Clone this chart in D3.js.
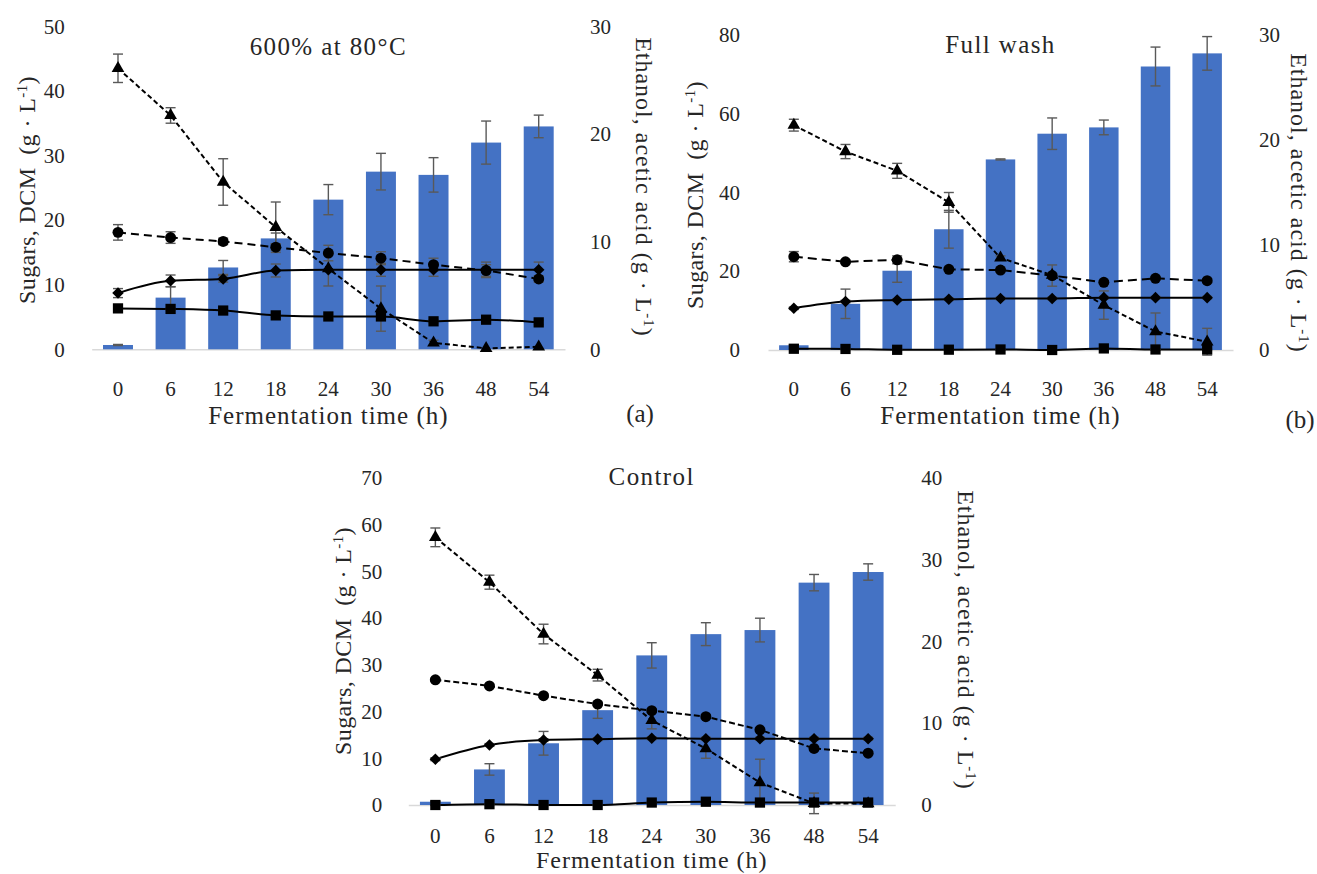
<!DOCTYPE html>
<html>
<head>
<meta charset="utf-8">
<script src="https://d3js.org/d3.v7.min.js"></script>
<style>
  html, body { margin: 0; padding: 0; background: #fff; }
  svg { display: block; }
  text { font-family: "Liberation Serif", "Times New Roman", serif; fill: #262626; }
</style>
</head>
<body>
<svg id="chart" width="1317" height="874"></svg>
<script>
// Sampling times (h)
const times = ["0", "6", "12", "18", "24", "30", "36", "48", "54"];

// (a) 600% at 80°C
const ethanolA    = [0.4, 4.8, 7.6, 10.3, 13.9, 16.5, 16.2, 19.2, 20.7];
const ethanolErrA = [0.05, 1.0, 0.65, 0.5, 1.4, 1.7, 1.6, 2.0, 1.05];
const glucoseA    = [43.5, 36.2, 25.9, 18.9, 12.5, 6.3, 1.0, 0.15, 0.4];
const glucoseErrA = [2.2, 1.2, 3.6, 3.9, 0, 3.5, 0.4, 0, 0];
const xyloseA     = [18.1, 17.3, 16.7, 15.8, 14.9, 14.1, 13.1, 12.2, 10.9];
const xyloseErrA  = [1.2, 0.9, 0.5, 0.5, 1.2, 1.0, 1.0, 0.9, 0.5];
const dcmA        = [8.7, 10.6, 10.9, 12.2, 12.3, 12.3, 12.3, 12.3, 12.3];
const dcmErrA     = [0.7, 0.9, 0.5, 1.0, 2.5, 1.0, 1.0, 1.2, 1.2];
const aceticA     = [3.8, 3.75, 3.6, 3.15, 3.05, 3.05, 2.6, 2.75, 2.5];
const aceticErrA  = [0.1, 0.1, 0.1, 0.15, 0.1, 0.2, 0.15, 0.15, 0.2];

// (b) Full wash
const ethanolB    = [0.45, 4.4, 7.55, 11.5, 18.15, 20.6, 21.2, 27.0, 28.25];
const ethanolErrB = [0.05, 1.4, 1.1, 1.8, 0.05, 1.5, 0.7, 1.85, 1.6];
const glucoseB    = [57.1, 50.4, 45.5, 37.5, 23.4, 19.0, 11.4, 4.7, 2.1];
const glucoseErrB = [1.5, 1.8, 1.9, 2.5, 0.5, 0.5, 3.6, 4.7, 3.4];
const xyloseB     = [23.7, 22.4, 22.9, 20.5, 20.3, 18.9, 17.2, 18.2, 17.6];
const xyloseErrB  = [1.3, 0.4, 1.0, 0.5, 0.5, 2.7, 0.5, 0.5, 0.5];
const dcmB        = [10.6, 12.3, 12.7, 12.9, 13.1, 13.1, 13.3, 13.3, 13.3];
const dcmErrB     = [0.3, 0.3, 0.3, 0.3, 0.3, 0.3, 0.3, 0.3, 0.3];
const aceticB     = [0.12, 0.1, 0.02, 0.03, 0.05, 0.0, 0.15, 0.05, 0.05];
const aceticErrB  = [0.05, 0.05, 0.05, 0.05, 0.05, 0.05, 0.05, 0.05, 0.05];

// (c) Control
const ethanolC    = [0.4, 4.35, 7.55, 11.6, 18.3, 20.9, 21.4, 27.2, 28.5];
const ethanolErrC = [0.05, 0.7, 1.45, 1.0, 1.55, 1.4, 1.45, 1.0, 1.0];
const glucoseC    = [57.3, 47.7, 36.6, 27.8, 18.1, 12.1, 4.8, 0.35, 0.3];
const glucoseErrC = [2.0, 1.5, 2.1, 1.25, 1.8, 2.1, 5.0, 2.2, 0];
const xyloseC     = [26.8, 25.5, 23.4, 21.6, 20.2, 18.9, 16.1, 12.1, 11.1];
const xyloseErrC  = [0.3, 0.3, 0.3, 0.3, 0.3, 0.3, 0.3, 0.3, 0.3];
const dcmC        = [9.8, 12.85, 13.9, 14.1, 14.3, 14.2, 14.2, 14.2, 14.2];
const dcmErrC     = [0.3, 0.3, 0.3, 0.3, 0.3, 0.3, 0.3, 0.3, 0.3];
const aceticC     = [0.0, 0.1, 0.0, 0.0, 0.3, 0.4, 0.3, 0.3, 0.3];
const aceticErrC  = [0.05, 0.05, 0.05, 0.05, 0.05, 0.05, 0.05, 0.05, 0.05];

// Axis ranges and titles
const panelTitles = ["600% at 80°C", "Full wash", "Control"];
const panelTags   = ["(a)", "(b)", ""];
const leftMax     = [50, 80, 70];
const leftStep    = [10, 20, 10];
const rightMax    = [30, 30, 40];
const rightStep   = [10, 10, 10];
const xTitle      = "Fermentation time (h)";
const leftTitle   = "Sugars, DCM  (g · L";
const rightTitle  = "Ethanol, acetic acid (g · L";

const series = [
  { ethanol: ethanolA, ethanolErr: ethanolErrA, glucose: glucoseA, glucoseErr: glucoseErrA,
    xylose: xyloseA, xyloseErr: xyloseErrA, dcm: dcmA, dcmErr: dcmErrA, acetic: aceticA, aceticErr: aceticErrA },
  { ethanol: ethanolB, ethanolErr: ethanolErrB, glucose: glucoseB, glucoseErr: glucoseErrB,
    xylose: xyloseB, xyloseErr: xyloseErrB, dcm: dcmB, dcmErr: dcmErrB, acetic: aceticB, aceticErr: aceticErrB },
  { ethanol: ethanolC, ethanolErr: ethanolErrC, glucose: glucoseC, glucoseErr: glucoseErrC,
    xylose: xyloseC, xyloseErr: xyloseErrC, dcm: dcmC, dcmErr: dcmErrC, acetic: aceticC, aceticErr: aceticErrC }
];

// Placement of each panel on the page
const layouts = [
  { x0: 91.7, x1: 565, base: 349.3, top: 26.3, padL: 27, padR: 25, padX: 31.8,
    titleX: 328.3, titleY: 55, xTitleY: 424, xTitleSize: 25, lTitleX: 35, lTitleY: 190,
    rTitleX: 636, rTitleY: 187, tagX: 640, tagY: 422, circDash: "8,5", triDash: "5,3" },
  { x0: 768, x1: 1233, base: 350, top: 35, padL: 28, padR: 26, padX: 31,
    titleX: 1000.5, titleY: 53, xTitleY: 424, xTitleSize: 25, lTitleX: 703, lTitleY: 195,
    rTitleX: 1291, rTitleY: 203, tagX: 1300, tagY: 428, circDash: "9,5", triDash: "5,3" },
  { x0: 408.3, x1: 895.2, base: 805, top: 478, padL: 26, padR: 26, padX: 23,
    titleX: 651.7, titleY: 485, xTitleY: 868, xTitleSize: 24, lTitleX: 351, lTitleY: 641,
    rTitleX: 958, rTitleY: 640, tagX: 0, tagY: 0, circDash: "6,3", triDash: "5,3" }
];

const BAR = "#4472C4", ERR = "#595959", INK = "#000";
const svg = d3.select("#chart");
const diamond = d3.symbolDiamond2 || d3.symbolDiamond;

function errorBar(g, cx, yA, yB) {
  if (Math.abs(yA - yB) < 0.5) return;
  g.append("line").attr("x1", cx).attr("x2", cx).attr("y1", yA).attr("y2", yB);
  g.append("line").attr("x1", cx - 5).attr("x2", cx + 5).attr("y1", yA).attr("y2", yA);
  g.append("line").attr("x1", cx - 5).attr("x2", cx + 5).attr("y1", yB).attr("y2", yB);
}

function axisTitle(g, text, x, y, angle) {
  const t = g.append("text")
    .attr("transform", `translate(${x},${y}) rotate(${angle})`)
    .attr("text-anchor", "middle")
    .attr("font-size", 24)
    .attr("letter-spacing", angle < 0 ? 0.4 : 1)
    .attr("xml:space", "preserve");
  t.append("tspan").text(text);
  t.append("tspan").attr("font-size", 15).attr("dy", -8).text("-1");
  t.append("tspan").attr("dy", 8).text(")");
}

function drawPanel(i) {
  const L = layouts[i], d = series[i];
  const g = svg.append("g");

  const x = d3.scaleBand().domain(times).range([L.x0, L.x1]).paddingInner(0.43).paddingOuter(0.215);
  const cx = t => x(t) + x.bandwidth() / 2;
  const yL = d3.scaleLinear().domain([0, leftMax[i]]).range([L.base, L.top]);
  const yR = d3.scaleLinear().domain([0, rightMax[i]]).range([L.base, L.top]);

  // axes
  const ax = g.append("g").attr("transform", `translate(0,${L.base})`)
    .call(d3.axisBottom(x).tickSize(0).tickSizeOuter(0).tickPadding(L.padX));
  ax.select(".domain").attr("stroke", "#d9d9d9").attr("stroke-width", 1.5);

  const al = g.append("g").attr("transform", `translate(${L.x0},0)`)
    .call(d3.axisLeft(yL).tickValues(d3.range(0, leftMax[i] + 1, leftStep[i])).tickSize(0).tickPadding(L.padL));
  const ar = g.append("g").attr("transform", `translate(${L.x1},0)`)
    .call(d3.axisRight(yR).tickValues(d3.range(0, rightMax[i] + 1, rightStep[i])).tickSize(0).tickPadding(L.padR));
  [al, ar].forEach(a => a.select(".domain").remove());
  [ax, al, ar].forEach(a => a.attr("font-family", null).attr("font-size", null)
    .selectAll("text").attr("font-size", 21).attr("fill", "#2b2b2b"));

  // ethanol bars with error bars
  g.append("g").selectAll("rect").data(times).join("rect")
    .attr("x", t => x(t)).attr("width", x.bandwidth())
    .attr("y", (t, k) => yR(d.ethanol[k]))
    .attr("height", (t, k) => L.base - yR(d.ethanol[k]))
    .attr("fill", BAR);
  const eb = g.append("g").attr("stroke", ERR).attr("stroke-width", 1.4);
  times.forEach((t, k) => errorBar(eb, cx(t), yR(d.ethanol[k] - d.ethanolErr[k]), yR(d.ethanol[k] + d.ethanolErr[k])));

  // line series
  const defs = [
    { v: d.acetic, e: d.aceticErr, y: yR, sym: d3.symbolSquare, size: 105, dash: null, curve: d3.curveMonotoneX },
    { v: d.dcm, e: d.dcmErr, y: yL, sym: diamond, size: 85, dash: null, curve: d3.curveMonotoneX },
    { v: d.xylose, e: d.xyloseErr, y: yL, sym: d3.symbolCircle, size: 95, dash: L.circDash, curve: d3.curveLinear },
    { v: d.glucose, e: d.glucoseErr, y: yL, sym: d3.symbolTriangle, size: 70, dash: L.triDash, curve: d3.curveLinear }
  ];
  defs.forEach(s => {
    const line = d3.line().x((v, k) => cx(times[k])).y(v => s.y(v)).curve(s.curve);
    g.append("path").datum(s.v).attr("d", line)
      .attr("fill", "none").attr("stroke", INK).attr("stroke-width", 2)
      .attr("stroke-dasharray", s.dash);
  });
  defs.forEach(s => {
    const lg = g.append("g").attr("stroke", ERR).attr("stroke-width", 1.4);
    s.v.forEach((v, k) => errorBar(lg, cx(times[k]), s.y(v - s.e[k]), s.y(v + s.e[k])));
  });
  defs.forEach(s => {
    g.append("g").selectAll("path").data(s.v).join("path")
      .attr("transform", (v, k) => `translate(${cx(times[k])},${s.y(v)})`)
      .attr("d", d3.symbol().type(s.sym).size(s.size))
      .attr("fill", INK);
  });

  // titles
  g.append("text").attr("x", L.titleX).attr("y", L.titleY).attr("text-anchor", "middle")
    .attr("font-size", 25).attr("letter-spacing", 1.4).text(panelTitles[i]);
  g.append("text").attr("x", (L.x0 + L.x1) / 2).attr("y", L.xTitleY).attr("text-anchor", "middle")
    .attr("font-size", L.xTitleSize).attr("letter-spacing", 1).text(xTitle);
  axisTitle(g, leftTitle, L.lTitleX, L.lTitleY, -90);
  axisTitle(g, rightTitle, L.rTitleX, L.rTitleY, 90);
  if (panelTags[i]) {
    g.append("text").attr("x", L.tagX).attr("y", L.tagY).attr("text-anchor", "middle")
      .attr("font-size", 25).text(panelTags[i]);
  }
}

[0, 1, 2].forEach(drawPanel);
</script>
</body>
</html>
